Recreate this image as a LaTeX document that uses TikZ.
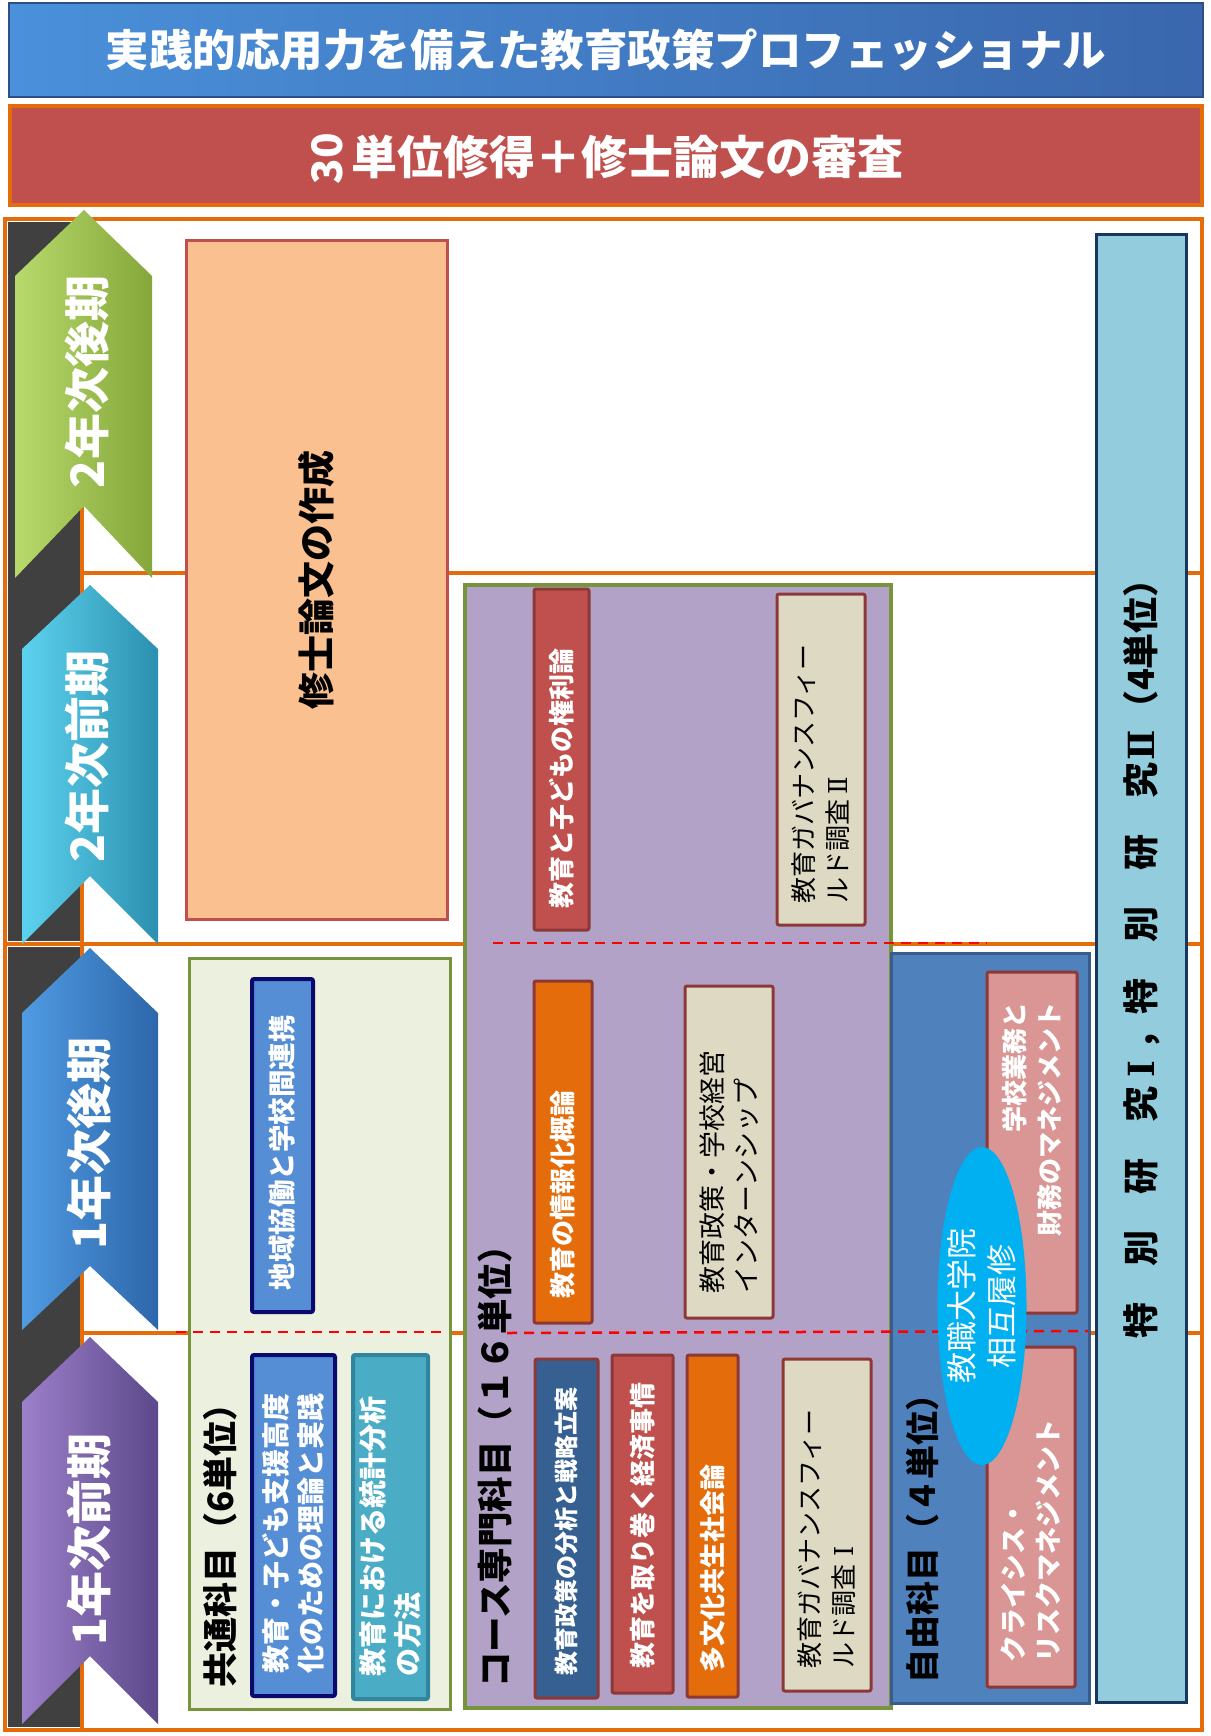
\documentclass[tikz,border=0pt]{standalone}
\usepackage{fontspec}
\setmainfont{Noto Sans CJK JP}
\newfontfamily\romnum{DejaVu Serif}
\usetikzlibrary{shapes.geometric}
\definecolor{bannerBlueL}{HTML}{4A90DA}
\definecolor{bannerBlueR}{HTML}{3A67AD}
\definecolor{bannerEdge}{HTML}{2C4F8A}
\definecolor{redBan}{HTML}{C0504D}
\definecolor{orangeF}{HTML}{E46C0A}
\definecolor{darkBand}{HTML}{404040}
\definecolor{peach}{HTML}{FAC090}
\definecolor{peachEdge}{HTML}{C0504D}
\definecolor{purpleF}{HTML}{B2A2C7}
\definecolor{oliveE}{HTML}{77933C}
\definecolor{lightGreen}{HTML}{EBF1DE}
\definecolor{blueC}{HTML}{558ED5}
\definecolor{navyE}{HTML}{0A0A6E}
\definecolor{tealF}{HTML}{4BACC6}
\definecolor{tealE}{HTML}{31859C}
\definecolor{cred}{HTML}{C0504D}
\definecolor{cdred}{HTML}{8C3836}
\definecolor{corange}{HTML}{E46C0A}
\definecolor{cbeige}{HTML}{DDD9C3}
\definecolor{cdblue}{HTML}{376092}
\definecolor{jiyuF}{HTML}{4F81BD}
\definecolor{jiyuE}{HTML}{385D8A}
\definecolor{pinkF}{HTML}{D99694}
\definecolor{cyanE}{HTML}{00B0F0}
\definecolor{barF}{HTML}{93CDDD}
\definecolor{barE}{HTML}{17375E}
\definecolor{dashred}{HTML}{FF0000}
\definecolor{greenL}{HTML}{B8DA6C}
\definecolor{greenR}{HTML}{84A63A}
\definecolor{cyanL}{HTML}{5CD2EE}
\definecolor{cyanR}{HTML}{2C90B0}
\definecolor{blueL}{HTML}{4F9BE2}
\definecolor{blueR}{HTML}{2E66AA}
\definecolor{purpleL}{HTML}{9C80CA}
\definecolor{purpleR}{HTML}{5C488A}
\newcommand{\RomI}{\makebox[1em]{\romnum Ⅰ}}
\newcommand{\RomII}{\makebox[1em]{\romnum Ⅱ}}
\begin{document}
\begin{tikzpicture}[x=1pt,y=-1pt,
  orangeline/.style={draw=orangeF, line width=4pt},
  course/.style={rotate=90, draw=cdred, line width=3pt, rounded corners=2pt, inner ysep=0pt, align=left},
  wtxt/.style={text=white, font=\bfseries\fontsize{#1}{35}\selectfont},
  btxt/.style={text=black, font=\fontsize{#1}{34}\selectfont},
  dashline/.style={draw=dashred, line width=2.5pt, dash pattern=on 10pt off 7pt},
  grouplbl/.style={rotate=90, anchor=west, inner sep=0pt, text=black, font=\bfseries\fontsize{#1}{40}\selectfont},
  chevtext/.style={rotate=90, text=white, inner sep=0pt, font=\bfseries\fontsize{46}{50}\selectfont},
  plainbox/.style={inner sep=0pt},
]
\useasboundingbox (0,0) rectangle (1210,1736);
\fill[white] (0,0) rectangle (1210,1736);

% banners
\node[plainbox, draw=bannerEdge, line width=1.5pt, left color=bannerBlueL, right color=bannerBlueR, minimum width=1194, minimum height=94, text=white, font=\bfseries\fontsize{43.5}{48}\selectfont] (title) at (606,50) {実践的応用力を備えた教育政策プロフェッショナル};
\node[plainbox, draw=orangeF, line width=4pt, fill=redBan, minimum width=1192, minimum height=99] (req) at (606,155.5) {};
\node[rotate=90, plainbox, text=white, font=\bfseries\fontsize{42}{46}\selectfont] (req30) at (327,159) {30};
\node[anchor=west, plainbox, text=white, font=\bfseries\fontsize{46}{50}\selectfont] (reqtxt) at (351,157) {単位修得＋修士論文の審査};

% frames
\draw[orangeline, fill=white] (5,219) rectangle (1202,944);
\draw[orangeline, fill=white] (5,944) rectangle (1202,1730);
\fill[darkBand] (8,222) rectangle (80,941);
\fill[darkBand] (8,947) rectangle (80,1727);
\draw[orangeline] (82,219) rectangle (1202,573);
\draw[orangeline] (82,573) rectangle (1202,944);
\draw[orangeline] (82,944) rectangle (1202,1333);
\draw[orangeline] (82,1333) rectangle (1202,1730);

% chevrons
\shade[left color=greenL, right color=greenR] (15,276) -- (84,210) -- (152,276) -- (152,578) -- (84,506) -- (15,578) -- cycle;
\node[chevtext] (c4) at (87,382) {2年次後期};
\shade[left color=cyanL, right color=cyanR] (22,649) -- (90,585) -- (158,649) -- (158,944) -- (90,876) -- (22,944) -- cycle;
\node[chevtext] (c3) at (87,756) {2年次前期};
\shade[left color=blueL, right color=blueR] (22,1013) -- (90,948) -- (158,1013) -- (158,1330) -- (90,1266) -- (22,1330) -- cycle;
\node[chevtext] (c2) at (89,1143) {1年次後期};
\shade[left color=purpleL, right color=purpleR] (22,1402) -- (90,1337) -- (158,1402) -- (158,1724) -- (90,1656) -- (22,1724) -- cycle;
\node[chevtext] (c1) at (89,1539) {1年次前期};

% thesis
\node[plainbox, rotate=90, draw=peachEdge, fill=peach, line width=3pt, minimum width=678, minimum height=261, font=\bfseries\fontsize{37}{40}\selectfont] (thesis) at (316.5,580) {修士論文の作成};

% group boxes
\node[plainbox, draw=oliveE, fill=purpleF, line width=4pt, minimum width=426, minimum height=1123] (coursebox) at (678,1146.5) {};
\node[grouplbl=35.5] (courselbl) at (495,1688) {コース専門科目（１６単位）};
\node[plainbox, draw=oliveE, fill=lightGreen, line width=3pt, minimum width=261, minimum height=751] (commonbox) at (319.5,1333.5) {};
\node[grouplbl=35] (commonlbl) at (220,1688) {共通科目（6単位）};
\node[plainbox, draw=jiyuE, fill=jiyuF, line width=3pt, minimum width=198, minimum height=750] (freebox) at (990,1328) {};
\node[grouplbl=34] (freelbl) at (923,1684) {自由科目（４単位）};
\node[plainbox, draw=barE, fill=barF, line width=3pt, minimum width=90, minimum height=1467] (barbox) at (1141,968.5) {};
\node[rotate=90, plainbox, text=black, font=\bfseries\fontsize{36}{40}\selectfont] (bartxt) at (1142,950) {特　別　研　究\RomI，特　別　研　究\RomII（4単位）};

% dashed lines
\coordinate (d1a) at (176,1332);
\coordinate (d1b) at (448,1332);
\coordinate (d2a) at (507,1333);
\coordinate (d2b) at (1088,1331);
\coordinate (d4a) at (493,943);
\coordinate (d4b) at (987,943);
\draw[dashline] (d1a) -- (d1b);
\draw[dashline] (d2a) -- (d2b);
\draw[dashline] (d4a) -- (d4b);

% course subjects
\node[course, fill=cred, wtxt=26, minimum height=55, text width=297, inner xsep=22] (kenri) at (561.5,759.5) {教育と子どもの権利論};
\node[course, fill=cbeige, btxt=26, minimum height=88, text width=287, inner xsep=22] (gov2) at (821,759.5) {教育ガバナンスフィー\\ルド調査\RomII};
\node[course, fill=corange, wtxt=26, minimum height=58, text width=292, inner xsep=25] (joho) at (563,1152) {教育の情報化概論};
\node[course, fill=cbeige, btxt=27, minimum height=88, text width=282, inner xsep=25] (intern) at (729,1152) {教育政策・学校経営\\インターンシップ};
\node[course, fill=cdblue, wtxt=24, minimum height=63, text width=293, inner xsep=23] (bunseki) at (566.5,1528.5) {教育政策の分析と戦略立案};
\node[course, fill=cred, wtxt=26, minimum height=61, text width=288, inner xsep=25] (keizai) at (642.5,1524) {教育を取り巻く経済事情};
\node[course, fill=corange, wtxt=26, minimum height=51, text width=292, inner xsep=25] (tabunka) at (712.5,1526) {多文化共生社会論};
\node[course, fill=cbeige, btxt=26, minimum height=88, text width=286, inner xsep=23] (gov1) at (827,1525) {教育ガバナンスフィー\\ルド調査\RomI};

% common subjects
\node[course, draw=navyE, line width=4pt, fill=blueC, wtxt=27.5, minimum height=61, text width=289, inner xsep=22] (chiiki) at (282.5,1145.5) {地域協働と学校間連携};
\node[course, draw=navyE, line width=4pt, fill=blueC, wtxt=28, minimum height=83, text width=295, inner xsep=23] (riron) at (293.5,1525.5) {教育・子ども支援高度\\化のための理論と実践};
\node[course, draw=tealE, line width=4pt, fill=tealF, wtxt=28, minimum height=75, text width=298, inner xsep=23] (toukei) at (390.5,1527) {教育における統計分析\\の方法};

% free subjects
\node[course, fill=pinkF, wtxt=26, align=right, minimum height=90, text width=281, inner xsep=30] (gakko) at (1032,1142.5) {学校業務と\\財務のマネジメント};
\node[course, fill=pinkF, wtxt=27, minimum height=88, text width=290, inner xsep=25] (crisis) at (1031,1517) {クライシス・\\リスクマネジメント};

% ellipse
\node[ellipse, fill=cyanE, minimum width=89, minimum height=318, inner sep=0pt] (ell) at (982,1306) {};
\node[rotate=90, plainbox, align=center, text=white, font=\fontsize{31}{40}\selectfont] (elltxt) at (ell.center) {教職大学院\\相互履修};
\end{tikzpicture}
\end{document}
